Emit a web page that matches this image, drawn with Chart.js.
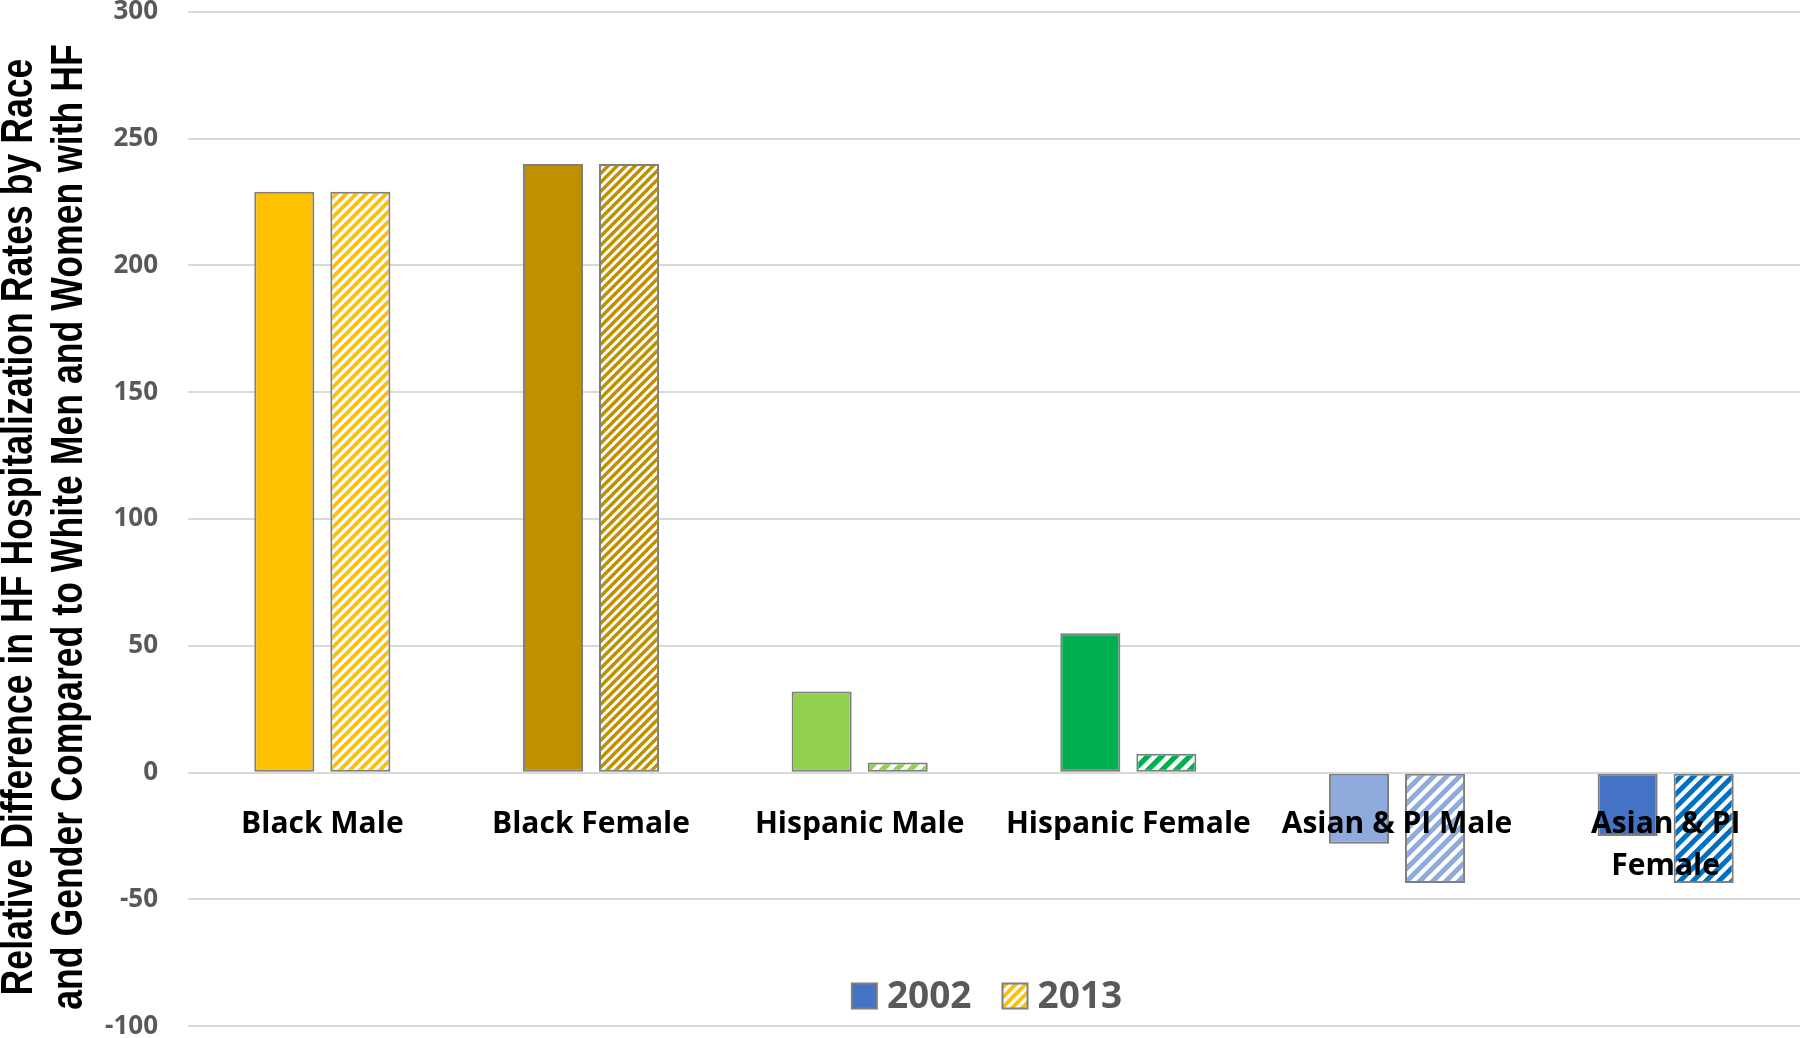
<!DOCTYPE html>
<html>
<head>
<meta charset="utf-8">
<script src="https://cdn.jsdelivr.net/npm/chart.js@4"></script>
<style>
  html, body { margin: 0; padding: 0; background: #fff; }
  #wrap { width: 1800px; height: 1038px; position: relative; }
</style>
</head>
<body>
<div id="wrap"><canvas id="grafico"></canvas></div>
<script>
// dados
const categorias = ['Black Male', 'Black Female', 'Hispanic Male', 'Hispanic Female', 'Asian & PI Male', ['Asian & PI', 'Female']];
const anos = ['2002', '2013'];
const valores2002 = [229, 240, 32, 55, -28, -25];
const valores2013 = [229, 240, 4, 7.5, -43.5, -43.5];
const cores = ['#FFC000', '#BF9000', '#92D050', '#00B050', '#8FAADC', '#4472C4'];
const coresHachura = ['#FFC000', '#BF9000', '#92D050', '#00B050', '#8FAADC', '#0070C0'];
const passoHachura = [10, 9, 14, 14, 13, 13];
const ticksY = [-100, -50, 0, 50, 100, 150, 200, 250, 300];
const tituloY = ['Relative Difference in HF Hospitalization Rates by Race', 'and Gender Compared to White Men and Women with HF'];

// padrão listrado (diagonal /)
function criarHachura(cor, passo) {
    const c = document.createElement('canvas');
    c.width = passo; c.height = passo;
    const g = c.getContext('2d');
    g.fillStyle = '#ffffff';
    g.fillRect(0, 0, passo, passo);
    g.strokeStyle = cor;
    g.lineWidth = passo * 0.38;
    g.beginPath();
    g.moveTo(-passo, passo * 2); g.lineTo(passo * 2, -passo);
    g.moveTo(-passo * 2, passo * 2); g.lineTo(passo, -passo);
    g.moveTo(0, passo * 2); g.lineTo(passo * 3, -passo);
    g.stroke();
    return g.createPattern(c, 'repeat');
}

const hachuras = coresHachura.map((c, i) => criarHachura(c, passoHachura[i]));

// legenda desenhada dentro da área do gráfico
const legendaPlugin = {
    id: 'legendaInterna',
    afterDraw(chart) {
        const ctx = chart.ctx;
        const area = chart.chartArea;
        const itens = [
            { texto: anos[0], fill: cores[5] },
            { texto: anos[1], fill: criarHachura(cores[0], 10) }
        ];
        ctx.save();
        ctx.font = 'bold 37px "Open Sans"';
        const caixa = 25, gapTexto = 10, gapItem = 31;
        let total = 0;
        itens.forEach((it, i) => {
            it.w = ctx.measureText(it.texto).width;
            total += caixa + gapTexto + it.w + (i > 0 ? gapItem : 0);
        });
        let x = (area.left + area.right) / 2 - total / 2 - 7;
        const yc = 996;
        ctx.textBaseline = 'middle';
        ctx.textAlign = 'left';
        itens.forEach((it) => {
            ctx.fillStyle = it.fill;
            ctx.fillRect(x, yc - caixa / 2, caixa, caixa);
            ctx.strokeStyle = '#7f7f7f';
            ctx.lineWidth = 2;
            ctx.strokeRect(x, yc - caixa / 2, caixa, caixa);
            ctx.fillStyle = '#595959';
            ctx.fillText(it.texto, x + caixa + gapTexto, yc + 1);
            x += caixa + gapTexto + it.w + gapItem;
        });
        ctx.restore();
    }
};

// título do eixo Y (duas linhas, condensado)
const tituloPlugin = {
    id: 'tituloY',
    afterDraw(chart) {
        const ctx = chart.ctx;
        ctx.save();
        ctx.translate(45, 527);
        ctx.rotate(-Math.PI / 2);
        ctx.scale(0.81, 1);
        ctx.font = 'bold 44px "Liberation Sans"';
        ctx.fillStyle = '#000000';
        ctx.textAlign = 'center';
        ctx.textBaseline = 'middle';
        ctx.fillText(tituloY[0], 0, -25);
        ctx.fillText(tituloY[1], 0, 25);
        ctx.restore();
    }
};

new Chart(document.getElementById('grafico').getContext('2d'), {
    type: 'bar',
    data: {
        labels: categorias,
        datasets: [
            {
                label: anos[0],
                data: valores2002,
                backgroundColor: cores,
                borderColor: '#7f7f7f',
                borderWidth: 2,
                borderSkipped: false,
                categoryPercentage: 0.566,
                barPercentage: 0.79
            },
            {
                label: anos[1],
                data: valores2013,
                backgroundColor: hachuras,
                borderColor: '#7f7f7f',
                borderWidth: 2,
                borderSkipped: false,
                categoryPercentage: 0.566,
                barPercentage: 0.79
            }
        ]
    },
    options: {
        responsive: true,
        maintainAspectRatio: false,
        animation: false,
        layout: { padding: { left: 95, right: 0, top: 0, bottom: 0 } },
        plugins: {
            legend: { display: false },
            tooltip: { enabled: false },
            title: { display: false }
        },
        scales: {
            x: {
                position: { y: 0 },
                grid: { display: false },
                border: { display: false },
                ticks: {
                    z: 1,
                    autoSkip: false,
                    maxRotation: 0,
                    minRotation: 0,
                    padding: 23,
                    color: '#000000',
                    font: { family: 'Open Sans', size: 30, weight: 'bold', lineHeight: 1.4 }
                }
            },
            y: {
                min: ticksY[0],
                max: ticksY[ticksY.length - 1],
                afterBuildTicks(scale) {
                    scale.ticks = ticksY.map(v => ({ value: v }));
                },
                afterFit(scale) { scale.width = 93; },
                grid: { color: '#d9d9d9', lineWidth: 2, drawTicks: true, tickLength: 30, tickColor: 'rgba(0,0,0,0)' },
                border: { display: false },
                ticks: {
                    padding: 0,
                    color: '#595959',
                    font: { family: 'Open Sans', size: 26, weight: 'bold', lineHeight: 0.9 }
                }
            }
        }
    },
    plugins: [tituloPlugin, legendaPlugin]
});
</script>
</body>
</html>
